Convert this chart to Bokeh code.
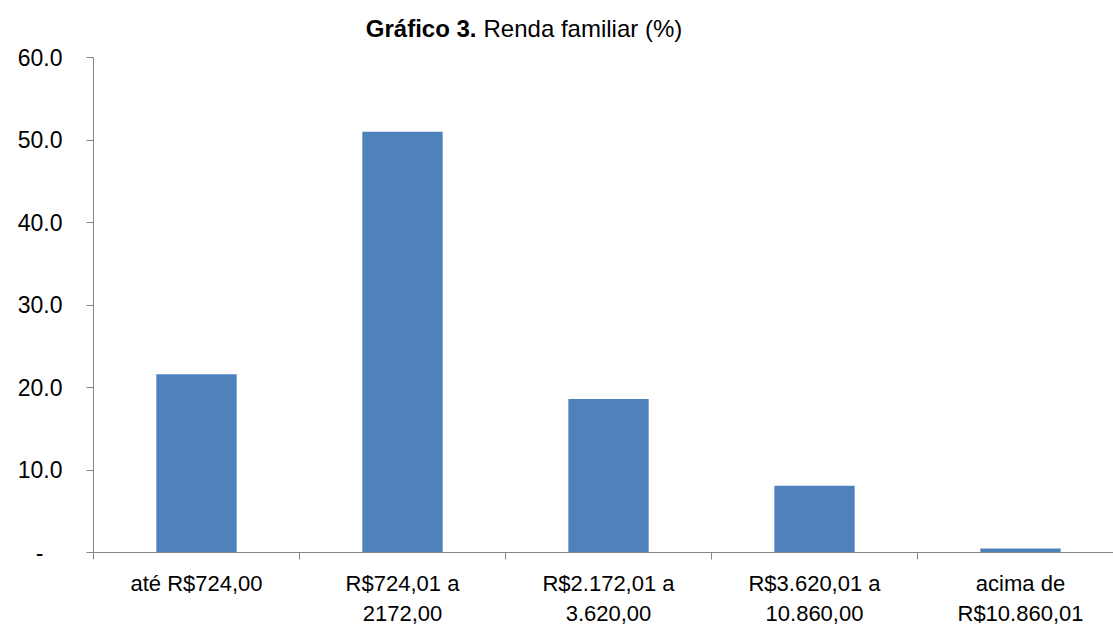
from bokeh.plotting import figure
from bokeh.models import Range1d, FixedTicker, Label, ColumnDataSource
from bokeh.embed import file_html
from bokeh.resources import INLINE

categories = ["até R$724,00", "R$724,01 a\n2172,00", "R$2.172,01 a\n3.620,00",
              "R$3.620,01 a\n10.860,00", "acima de\nR$10.860,01"]
values = [21.6, 51.0, 18.6, 8.1, 0.5]
y_ticks = [0, 10, 20, 30, 40, 50, 60]
y_tick_labels = ["-\u00a0\u00a0\u00a0", "10.0", "20.0", "30.0", "40.0", "50.0", "60.0"]
title_bold = "Gráfico 3."
title_rest = "Renda familiar (%)"

FONT = "Liberation Sans"
AXIS_COLOR = "#868686"
BAR_COLOR = "#4F81BD"

W, H = 1113, 625
# pixel layout of the plotting area (axes drawn at fixed locations inside the canvas)
AX_LEFT, AX_TOP, AX_BOTTOM = 93, 57, 552
PX_PER_CAT = 206
Y_MAX = 60
px_per_y = (AX_BOTTOM - AX_TOP) / Y_MAX

x_start = -0.5 - AX_LEFT / PX_PER_CAT
x_end = -0.5 + (W - AX_LEFT) / PX_PER_CAT
y_start = -(H - AX_BOTTOM) / px_per_y
y_end = Y_MAX + AX_TOP / px_per_y

xs = list(range(len(categories)))
src = ColumnDataSource(dict(x=xs, top=values))

p = figure(width=W, height=H, output_backend="svg", toolbar_location=None,
           x_range=Range1d(x_start, x_end), y_range=Range1d(y_start, y_end),
           min_border=0, min_border_left=0, min_border_right=0,
           min_border_top=0, min_border_bottom=0)
p.outline_line_color = None
p.xgrid.visible = False
p.ygrid.visible = False
p.background_fill_color = "white"
p.border_fill_color = "white"

p.vbar(x="x", top="top", width=0.39, bottom=0, source=src, fill_color=BAR_COLOR, line_color=None)

# y axis
ya = p.yaxis[0]
ya.fixed_location = -0.5
ya.bounds = (0, Y_MAX)
ya.ticker = FixedTicker(ticks=y_ticks, minor_ticks=[])
ya.major_label_overrides = {t: l for t, l in zip(y_ticks, y_tick_labels)}
ya.axis_line_color = AXIS_COLOR
ya.major_tick_line_color = AXIS_COLOR
ya.major_tick_out = 7
ya.major_tick_in = 0
ya.major_label_standoff = 24
ya.major_label_text_font = FONT
ya.major_label_text_font_size = "23px"
ya.major_label_text_color = "black"

# x axis
xa = p.xaxis[0]
xa.fixed_location = 0
xa.bounds = (-0.5, x_end + 1)
xa.ticker = FixedTicker(ticks=xs, minor_ticks=[x - 0.5 for x in xs])
xa.major_label_overrides = {x: c for x, c in zip(xs, categories)}
xa.axis_line_color = AXIS_COLOR
xa.major_tick_line_color = None
xa.major_tick_out = 0
xa.major_tick_in = 0
xa.minor_tick_line_color = AXIS_COLOR
xa.minor_tick_out = 7
xa.minor_tick_in = 0
xa.major_label_standoff = 11
xa.major_label_text_font = FONT
xa.major_label_text_font_size = "22px"
xa.major_label_text_color = "black"
xa.major_label_text_line_height = 1.22
xa.major_label_orientation = "horizontal"

# title (bold + regular parts)
title_y = Y_MAX + (AX_TOP - 28) / px_per_y
t1 = Label(x=-0.5 + (476 - AX_LEFT) / PX_PER_CAT, y=title_y, text=title_bold, text_font=FONT,
           text_font_size="24px", text_font_style="bold", text_align="right",
           text_baseline="middle", text_color="black")
t2 = Label(x=-0.5 + (483 - AX_LEFT) / PX_PER_CAT, y=title_y, text=title_rest, text_font=FONT,
           text_font_size="24px", text_align="left", text_baseline="middle", text_color="black")
p.add_layout(t1)
p.add_layout(t2)

open("out.html", "w").write(file_html(p, INLINE))
